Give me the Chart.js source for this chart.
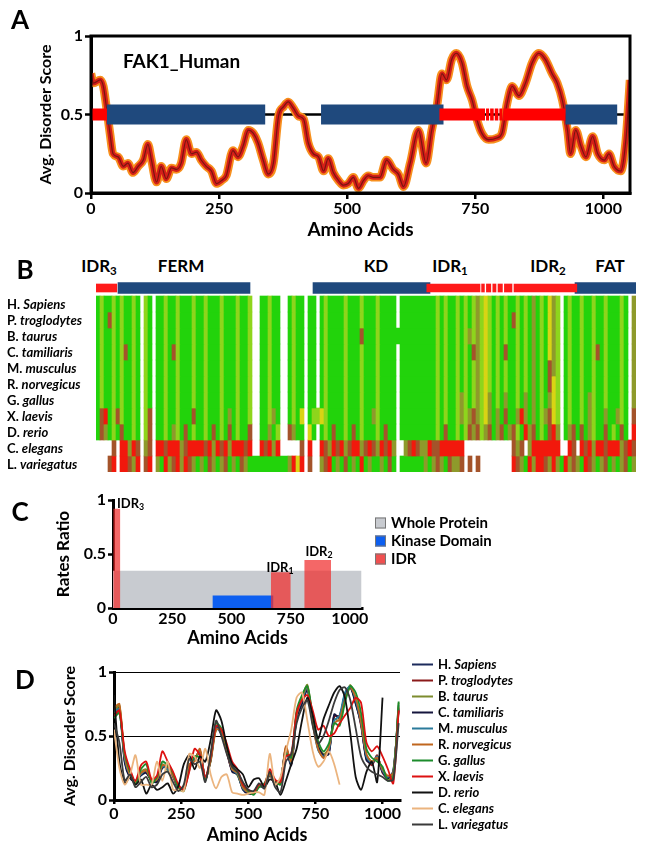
<!DOCTYPE html>
<html>
<head>
<meta charset="utf-8">
<script src="https://cdn.jsdelivr.net/npm/chart.js@4.4.0/dist/chart.umd.min.js"></script>
<style>
  body { margin: 0; background: #fff; }
  #fig { position: relative; width: 645px; height: 851px; font-family: Lato, 'Open Sans', sans-serif; font-weight: bold; color: #000; overflow: hidden; }
  #fig canvas { position: absolute; }
  .t { position: absolute; line-height: 1; white-space: nowrap; }
  .c { transform: translate(-50%, -50%); }
  .l { transform: translate(0, -50%); }
  sub { font-size: 68%; vertical-align: -0.3em; line-height: 0; }
  .letter { font-size: 26px; }
  .hdr { font-size: 17px; }
  .row { font-size: 13px; }
  .idr { font-size: 13px; }
  .lgC { font-size: 15px; }
  .lgC span.sw { position: absolute; left: -16px; top: 50%; width: 9px; height: 9px; margin-top: -5px; border: 1px solid #777; }
  .lgD { font-size: 13px; }
  .lgD span.ln { position: absolute; left: -26px; top: 50%; width: 21px; height: 2px; margin-top: -1px; }
</style>
</head>
<body>
<div id="fig">
  <canvas id="chartA" width="645" height="245" style="left:0;top:0"></canvas>
  <canvas id="chartB" width="540" height="192" style="left:96px;top:280px"></canvas>
  <canvas id="chartC" width="645" height="170" style="left:0;top:480px"></canvas>
  <canvas id="chartD" width="645" height="201" style="left:0;top:650px"></canvas>

  <div class="t c letter" style="left:20px;top:19px">A</div>
  <div class="t c letter" style="left:25px;top:269px">B</div>
  <div class="t c letter" style="left:20px;top:511px">C</div>
  <div class="t c letter" style="left:25px;top:679px">D</div>

  <div class="t l" style="left:123px;top:60px;font-size:19px">FAK1_Human</div>

  <div class="t c hdr" style="left:99px;top:265px">IDR<sub>3</sub></div>
  <div class="t c hdr" style="left:181px;top:265px">FERM</div>
  <div class="t c hdr" style="left:376px;top:265px">KD</div>
  <div class="t c hdr" style="left:450px;top:265px">IDR<sub>1</sub></div>
  <div class="t c hdr" style="left:548px;top:265px">IDR<sub>2</sub></div>
  <div class="t c hdr" style="left:610px;top:265px">FAT</div>

  <div class="t l idr" style="left:117px;top:503px">IDR<sub>3</sub></div>
  <div class="t c idr" style="left:280px;top:567px">IDR<sub>1</sub></div>
  <div class="t c idr" style="left:319px;top:551px">IDR<sub>2</sub></div>

  <div id="rowLabels"></div>
  <div id="legendC"></div>
  <div id="legendD"></div>
</div>

<script>
// ---------- shared ----------
const speciesNames = ['H. Sapiens', 'P. troglodytes', 'B. taurus', 'C. tamiliaris', 'M. musculus',
  'R. norvegicus', 'G. gallus', 'X. laevis', 'D. rerio', 'C. elegans', 'L. variegatus'];

// ---------- panel A : FAK1 human disorder profile ----------
const aaA = [0, 5, 18, 24, 30, 37, 43, 53, 63, 72, 82, 92, 102, 111, 118, 128, 137, 147, 157, 167,
  176, 186, 196, 206, 215, 225, 235, 245, 255, 264, 277, 287, 297, 307, 317, 326, 336, 346, 356, 366,
  376, 385, 395, 405, 415, 424, 434, 444, 454, 463, 473, 483, 493, 502, 512, 522, 532, 541, 551, 564,
  577, 590, 600, 610, 623, 639, 654, 665, 675, 685, 694, 704, 713, 724, 734, 744, 753, 763, 776, 792,
  802, 812, 822, 835, 848, 861, 874, 887, 900, 910, 920, 930, 936, 946, 956, 966, 979, 989, 1002, 1011,
  1021, 1034, 1044, 1052];
const scoreA = [0.76, 0.70, 0.72, 0.68, 0.55, 0.38, 0.25, 0.23, 0.17, 0.19, 0.13, 0.17, 0.21, 0.31, 0.21, 0.07, 0.17, 0.09, 0.16, 0.15,
  0.19, 0.34, 0.25, 0.26, 0.21, 0.17, 0.14, 0.06, 0.08, 0.11, 0.27, 0.23, 0.30, 0.40, 0.38, 0.32, 0.21, 0.12, 0.19, 0.49,
  0.55, 0.58, 0.54, 0.49, 0.47, 0.32, 0.25, 0.23, 0.14, 0.22, 0.13, 0.08, 0.05, 0.06, 0.10, 0.03, 0.08, 0.11, 0.10, 0.10,
  0.21, 0.15, 0.12, 0.04, 0.19, 0.40, 0.19, 0.40, 0.55, 0.76, 0.72, 0.85, 0.89, 0.83, 0.68, 0.59, 0.47, 0.38, 0.34, 0.35,
  0.38, 0.57, 0.68, 0.62, 0.70, 0.83, 0.89, 0.85, 0.76, 0.70, 0.59, 0.40, 0.25, 0.40, 0.30, 0.23, 0.36, 0.25, 0.21, 0.25,
  0.17, 0.14, 0.34, 0.72];
const proteinLengthA = 1052;
const domainsA = [[31, 340], [449, 688], [926, 1027]];
const idrsA = [[0, 31], [680, 769], [771, 777], [779, 786], [788, 795], [797, 803], [805, 926]];
const xTicksA = [0, 250, 500, 750, 1000];
const yTicksA = [0, 0.5, 1];

// ---------- panel B : conservation alignment ----------
const domainB = [[5.5, 38.5], [54.25, 83.5], [119.75, 135]];
const idrB = [[0, 5.2], [82.7, 96], [96.4, 97.1], [97.6, 98.7], [99.2, 100], [100.5, 101.6], [102.1, 104], [104.5, 120.2]];
// one character per alignment column: G green, L light green, Y yellow, O olive, B brown, R red, . gap
const alignRows = [
  'GLGGLGLGGL G.LG.GGLGG LGGGLGGLGG GLGGGLGGL. .GGLGG..GL GG.GG.GLGG GGLGGGLGGG LGGGG.GGGG GGGGGLGLGG LGLGLOLYLG LGLGGLGLGO GLGYOL.GLG GLGGLGGLGG GLG.O',
  'GLGBLGLGGL G.LG.GGLGG LGGGLGGLGG GLGGGLGGL. .GGLGG..GL GG.GG.GLGG GGLGGGLGGG LGGGG.GGGG GGGGGLGLGG LGLGLOLYLG LGLGBLGLGO GLGYOL.GLG GLGGLGGLGG GLG.O',
  'GLGGLGLGGL G.LG.GGLGG LGGGLGGLGG GLGGGLGGL. .GGLGG..GL GG.GG.GLGG GGLGGGBGGG LGGGGGGGGG GGGGGLGLGG LGLOLOLYLG LGLGGLGLGO GLGYOL.GLG GLGGLGGLGG GLG.O',
  'GLGGLGLBGL G.LG.GGLGB LGGGLGGLGG GLGGGLGGL. .GGLGG..GL GG.GG.GLGG GGLGGGLGGG LGGGG.GGGG GGGGGLGLGG LGLGBOLYLG LGBGGLGLGO GLGYOL.GLG GLGGLBGLGG GLG.O',
  'GLGGLGLGGL G.LG.GGLGG LGGGLGGLGG GLGGGLGGL. .GGLGG..GL GG.GG.GLGG GGLGGGLGGG LGGGG.GGGG GGGGGLGLGG LGLGLOLYLG LGLGGLGLGO GLGBOL.GLG GLGGLGGLGG GLG.O',
  'GLGGLGLGGL G.LG.GGLGG LGGGLGGLGG GLGGGLGGL. .GGLGG..GL GG.GG.GLGG GGLGGGLGGG LGGGG.GGGG GGGGGLGLGG LGLGLOLYLG LGLGGLGLGO GLGBYL.GLG GLGGLGGLGG GLG.O',
  'GLGGLGLGGL G.LG.GGLGG LGGGLGGLGG GLGGGLGGL. .GGLGG..GL GG.GG.GLGG GGLGGGLGGG LGGGG.GGGG GGGGGLGLGG LOLGLOLYOG LGOGGLGOGO GLGOYL.GLG GLGOLGGLGG GLG.O',
  'GBRGLBLGGL G.LB.GGLGG LGGGBGGLGG GLGOGLGGL. .GGLOG..GL GY.GLLYLGG GGLGGGLGGO LGGGG.GGGG GGGGGLGLGG LOLOBOLYOG OGBGGOROGO GLOBYL.GLG GLGOLGGOGG OLG.B',
  'GBOGLGBGGL G.LB.GGLGO LGBGLGGLGB GLGBGLGGB. .GGOGL..BO GG.YG.GLGB GGLGBGLGGG LGBGG.GGGG GGGGGLGBGG LGLBOBLOBG OBGOBLGROB GLGBRO.GOB GBGOLGGBGL GBG.R',
  '....B.RROR B.OB.RRBRR ROBRRRRBRO RBRORRRBR. .RBROR.... .B.R..RBOR BROBRROBRB ORBRO..OBR BOORBBRRRR RR........ ....BOB.OR RRRRRR..RB .RBRORRBRR ROBRB',
  '...BR.RRBO R.BR.OGROB RORBOGOGBO GOBGOGBOGG GGGGGGGGOR YR.B..OBRG OGBGOGRGOG GOGBG.GGGG GGOGOBOGBO OB.B.B.... ....RBOGRO RRBOROGROB OGRBOGOBGO GOBGO'
];
const cellColors = { G: '#22d30b', L: '#8ed51c', Y: '#d9d414', O: '#8e9a2b', B: '#a4532a', R: '#f2180c' };

// ---------- panel C : rates ratio ----------
const regionNamesC = ['IDR2', 'IDR1', 'IDR3', 'Kinase Domain', 'Whole Protein'];
const regionStartC = [808, 667, 1, 420, 0];
const regionEndC = [921, 751, 31, 678, 1050];
const ratioC = [0.445, 0.33, 0.92, 0.115, 0.345];
const regionColorC = ['rgba(240,45,45,0.72)', 'rgba(240,45,45,0.72)', 'rgba(240,45,45,0.72)', '#0d5ff0', '#c8cbd0'];
const legendNamesC = ['Whole Protein', 'Kinase Domain', 'IDR'];
const legendColorC = ['#c8cbd0', '#0d5ff0', '#f05050'];
const xTicksC = [0, 250, 500, 750, 1000];
const yTicksC = [0, 0.5, 1];

// ---------- panel D : orthologue disorder profiles ----------
const aaD = [0, 20, 40, 60, 80, 100, 120, 140, 160, 180, 200, 220, 240, 260, 280, 300, 320, 340, 360, 380,
  400, 420, 440, 460, 480, 500, 520, 540, 560, 580, 600, 620, 640, 660, 680, 700, 720, 740, 760, 780,
  800, 820, 840, 860, 880, 900, 920, 940, 960, 980, 1000, 1020, 1040, 1060];
const hsD = [0.70, 0.72, 0.30, 0.18, 0.14, 0.20, 0.22, 0.15, 0.15, 0.26, 0.25, 0.19, 0.09, 0.09, 0.26, 0.32, 0.38, 0.16, 0.32, 0.57,
  0.52, 0.38, 0.23, 0.20, 0.09, 0.06, 0.05, 0.11, 0.10, 0.20, 0.12, 0.15, 0.40, 0.28, 0.65, 0.76, 0.87, 0.62, 0.40, 0.34,
  0.37, 0.66, 0.65, 0.82, 0.88, 0.76, 0.59, 0.32, 0.28, 0.34, 0.22, 0.17, 0.22, 0.72];
const ptD = [0.71, 0.73, 0.31, 0.18, 0.15, 0.21, 0.22, 0.16, 0.15, 0.27, 0.25, 0.18, 0.09, 0.10, 0.27, 0.31, 0.39, 0.16, 0.33, 0.56,
  0.53, 0.37, 0.23, 0.21, 0.09, 0.06, 0.05, 0.12, 0.10, 0.21, 0.12, 0.14, 0.41, 0.28, 0.66, 0.77, 0.88, 0.61, 0.41, 0.33,
  0.38, 0.65, 0.66, 0.81, 0.89, 0.77, 0.58, 0.33, 0.27, 0.35, 0.21, 0.18, 0.21, 0.70];
const btD = [0.68, 0.74, 0.33, 0.20, 0.13, 0.22, 0.24, 0.14, 0.17, 0.28, 0.23, 0.20, 0.10, 0.08, 0.25, 0.33, 0.36, 0.18, 0.30, 0.55,
  0.54, 0.40, 0.25, 0.19, 0.10, 0.07, 0.06, 0.10, 0.11, 0.19, 0.14, 0.16, 0.38, 0.30, 0.68, 0.80, 0.90, 0.64, 0.43, 0.36,
  0.40, 0.63, 0.62, 0.80, 0.90, 0.79, 0.62, 0.35, 0.30, 0.32, 0.24, 0.16, 0.20, 0.76];
const ctD = [0.66, 0.70, 0.29, 0.17, 0.14, 0.19, 0.21, 0.15, 0.14, 0.25, 0.26, 0.20, 0.08, 0.09, 0.27, 0.32, 0.37, 0.17, 0.31, 0.58,
  0.51, 0.39, 0.22, 0.20, 0.08, 0.05, 0.05, 0.12, 0.09, 0.20, 0.13, 0.15, 0.39, 0.27, 0.64, 0.75, 0.86, 0.63, 0.42, 0.35,
  0.36, 0.67, 0.64, 0.83, 0.88, 0.75, 0.60, 0.31, 0.29, 0.33, 0.22, 0.17, 0.23, 0.71];
const mmD = [0.69, 0.71, 0.32, 0.19, 0.15, 0.20, 0.23, 0.16, 0.16, 0.26, 0.24, 0.19, 0.09, 0.09, 0.26, 0.31, 0.38, 0.17, 0.32, 0.56,
  0.52, 0.38, 0.24, 0.20, 0.09, 0.06, 0.06, 0.11, 0.10, 0.21, 0.12, 0.15, 0.40, 0.29, 0.67, 0.78, 0.88, 0.60, 0.39, 0.34,
  0.39, 0.62, 0.66, 0.84, 0.89, 0.78, 0.60, 0.34, 0.29, 0.34, 0.23, 0.18, 0.22, 0.74];
const rnD = [0.72, 0.75, 0.34, 0.19, 0.14, 0.21, 0.23, 0.15, 0.16, 0.27, 0.26, 0.19, 0.10, 0.09, 0.28, 0.30, 0.40, 0.16, 0.31, 0.55,
  0.54, 0.39, 0.24, 0.21, 0.10, 0.06, 0.05, 0.11, 0.11, 0.20, 0.13, 0.14, 0.42, 0.30, 0.66, 0.80, 0.89, 0.59, 0.40, 0.33,
  0.41, 0.60, 0.63, 0.78, 0.88, 0.80, 0.61, 0.36, 0.30, 0.33, 0.24, 0.19, 0.21, 0.73];
const ggD = [0.64, 0.68, 0.36, 0.22, 0.12, 0.24, 0.28, 0.13, 0.18, 0.30, 0.27, 0.21, 0.09, 0.07, 0.23, 0.34, 0.33, 0.15, 0.35, 0.60,
  0.56, 0.42, 0.26, 0.22, 0.12, 0.07, 0.04, 0.10, 0.13, 0.22, 0.15, 0.12, 0.36, 0.33, 0.70, 0.82, 0.89, 0.66, 0.46, 0.38,
  0.44, 0.60, 0.58, 0.76, 0.89, 0.84, 0.68, 0.40, 0.33, 0.30, 0.26, 0.15, 0.18, 0.77];
const xlD = [0.66, 0.70, 0.38, 0.24, 0.15, 0.27, 0.30, 0.16, 0.19, 0.38, 0.30, 0.22, 0.12, 0.08, 0.22, 0.40, 0.35, 0.18, 0.34, 0.58,
  0.55, 0.44, 0.30, 0.24, 0.12, 0.08, 0.06, 0.12, 0.12, 0.24, 0.16, 0.14, 0.34, 0.36, 0.68, 0.78, 0.82, 0.70, 0.55, 0.58,
  0.50, 0.52, 0.60, 0.66, 0.72, 0.80, 0.76, 0.45, 0.38, 0.42, 0.34, 0.24, 0.13, 0.70];
const drD = [0.82, 0.30, 0.13, 0.18, 0.12, 0.16, 0.05, 0.12, 0.08, 0.10, 0.13, 0.05, 0.11, 0.28, 0.35, 0.24, 0.34, 0.30, 0.47, 0.70,
  0.62, 0.42, 0.28, 0.24, 0.20, 0.10, 0.16, 0.17, 0.10, 0.16, 0.14, 0.04, 0.15, 0.28, 0.40, 0.62, 0.80, 0.66, 0.48, 0.63,
  0.74, 0.84, 0.89, 0.80, 0.52, 0.18, 0.08, 0.22, 0.30, 0.14, 0.80, null, null, null];
const ceD = [0.55, 0.25, 0.12, 0.20, 0.35, 0.12, 0.12, 0.12, 0.30, 0.15, 0.30, 0.08, 0.08, 0.07, 0.36, 0.34, 0.25, 0.40, 0.20, 0.09,
  0.18, 0.20, 0.06, 0.05, 0.04, 0.05, 0.06, 0.06, 0.04, 0.36, 0.12, 0.18, 0.38, 0.55, 0.80, 0.84, 0.62, 0.38, 0.26, 0.30,
  0.38, 0.28, 0.12, null, null, null, null, null, null, null, null, null, null, null];
const lvD = [0.60, 0.45, 0.15, 0.20, 0.10, 0.14, 0.18, 0.10, 0.12, 0.20, 0.22, 0.14, 0.07, 0.12, 0.32, 0.28, 0.30, 0.14, 0.36, 0.62,
  0.50, 0.36, 0.26, 0.22, 0.14, 0.08, 0.07, 0.13, 0.09, 0.22, 0.10, 0.06, 0.30, 0.36, 0.60, 0.72, 0.78, 0.58, 0.44, 0.50,
  0.62, 0.76, 0.86, 0.88, 0.78, 0.56, 0.34, 0.26, 0.22, 0.20, 0.18, 0.15, 0.16, 0.60];
const seriesD = [hsD, ptD, btD, ctD, mmD, rnD, ggD, xlD, drD, ceD, lvD];
const colorsD = ['#1c2b5c', '#8b1a1a', '#7d8c2e', '#15153d', '#2b7b9b', '#c0661e', '#1c8c2c', '#dd1111', '#111111', '#ebb47e', '#3a3a3a'];
const xTicksD = [0, 250, 500, 750, 1000];
const yTicksD = [0, 0.5, 1];

// ---------- defaults ----------
Chart.defaults.font.family = "Lato, 'Open Sans', sans-serif";
Chart.defaults.font.weight = 'bold';
Chart.defaults.color = '#000';
Chart.defaults.animation = false;
Chart.defaults.responsive = false;
Chart.defaults.devicePixelRatio = 1;
Chart.defaults.plugins.legend.display = false;
Chart.defaults.plugins.tooltip.enabled = false;
Chart.defaults.elements.point.radius = 0;

// fixed tick lists
function useTicks(values) {
    return scale => { scale.ticks = values.map(v => ({ value: v })); };
}

function points(xs, ys) {
    return xs.map((x, i) => ({ x: x, y: ys[i] }));
}

// horizontal bars at one level, broken between ranges
function levelSegments(ranges, level) {
    const out = [];
    ranges.forEach(([a, b], i) => {
        if (i > 0) out.push({ x: (out[out.length - 1].x + a) / 2, y: null });
        out.push({ x: a, y: level }, { x: b, y: level });
    });
    return out;
}

// box around the plot area (panel A)
const framePlugin = {
    id: 'frame',
    afterDatasetsDraw(chart) {
        const { ctx, chartArea: a } = chart;
        ctx.save();
        ctx.strokeStyle = '#000';
        ctx.lineWidth = 3;
        ctx.strokeRect(a.left, a.top, a.right - a.left, a.bottom - a.top);
        ctx.restore();
    }
};

function axisX(opts) {
    return {
        type: 'linear', min: opts.min, max: opts.max,
        border: { display: true, color: '#000', width: 3 },
        grid: { drawOnChartArea: false, drawTicks: opts.tick > 0, tickLength: opts.tick, tickWidth: 2.5, tickColor: '#000', lineWidth: 2.5 },
        ticks: { font: { size: opts.tickSize, weight: 'bold' }, padding: opts.tickPad, maxRotation: 0, callback: v => String(v) },
        afterBuildTicks: useTicks(opts.ticks),
        afterFit: s => { s.height = opts.height; },
        title: { display: true, text: 'Amino Acids', font: { size: opts.titleSize, weight: 'bold' }, padding: { top: 0, bottom: opts.titlePad } }
    };
}

function axisY(opts) {
    return {
        type: 'linear', min: 0, max: 1,
        border: { display: true, color: '#000', width: 3 },
        grid: { drawOnChartArea: !!opts.gridLines, color: '#000', lineWidth: 1, tickLength: opts.tick, tickWidth: 2.5, tickColor: '#000' },
        ticks: { font: { size: opts.tickSize, weight: 'bold' }, padding: 2, callback: v => String(v) },
        afterBuildTicks: useTicks(opts.ticks),
        afterFit: s => { s.width = opts.width; },
        title: { display: true, text: opts.title, font: { size: opts.titleSize, weight: 'bold' }, padding: { top: opts.titlePad, bottom: 0 } }
    };
}

// ---------- chart A ----------
new Chart(document.getElementById('chartA'), {
    type: 'line',
    data: {
        datasets: [
            { data: levelSegments(idrsA, 0.5), borderColor: '#ff0000', borderWidth: 12, borderCapStyle: 'butt', spanGaps: false },
            { data: levelSegments(domainsA, 0.5), borderColor: '#1f497d', borderWidth: 20, borderCapStyle: 'butt', spanGaps: false },
            { data: points(aaA, scoreA), borderColor: '#7a1410', borderWidth: 1.2, cubicInterpolationMode: 'monotone' },
            { data: points(aaA, scoreA), borderColor: '#d41f18', borderWidth: 5, cubicInterpolationMode: 'monotone' },
            { data: points(aaA, scoreA), borderColor: '#f7901e', borderWidth: 8.5, cubicInterpolationMode: 'monotone' },
            { data: [{ x: 0, y: 0.5 }, { x: proteinLengthA, y: 0.5 }], borderColor: '#000', borderWidth: 2.5 }
        ]
    },
    options: {
        layout: { padding: { left: 30, right: 15, top: 36, bottom: 0 } },
        scales: {
            x: axisX({ min: 0, max: proteinLengthA, ticks: xTicksA, tick: 6, tickSize: 16, tickPad: 0, height: 52, titleSize: 19, titlePad: 4 }),
            y: axisY({ ticks: yTicksA, tick: 6, tickSize: 16, width: 61, title: 'Avg. Disorder Score', titleSize: 16, titlePad: 6 })
        }
    },
    plugins: [framePlugin]
});

// ---------- chart B ----------
function rowRuns(str) {
    const s = str.replace(/ /g, '');
    const runs = [];
    for (let i = 0; i < s.length; i++) {
        const ch = s[i];
        if (ch === '.') continue;
        const last = runs[runs.length - 1];
        if (last && last.ch === ch && last.end === i) last.end = i + 1;
        else runs.push({ ch: ch, start: i, end: i + 1 });
    }
    return runs;
}

const datasetsB = [
    { data: idrB.map(([a, b]) => ({ x: [a, b], y: 'header' })), backgroundColor: '#ff1a1a', barThickness: 8, grouped: false },
    { data: domainB.map(([a, b]) => ({ x: [a, b], y: 'header' })), backgroundColor: '#1f497d', barThickness: 11, grouped: false }
];
alignRows.forEach((str, r) => {
    const runs = rowRuns(str);
    datasetsB.push({
        data: runs.map(u => ({ x: [u.start, u.end], y: speciesNames[r] })),
        backgroundColor: runs.map(u => cellColors[u.ch]),
        barPercentage: 1, categoryPercentage: 1, grouped: false, borderWidth: 0
    });
});

new Chart(document.getElementById('chartB'), {
    type: 'bar',
    data: { labels: ['header'].concat(speciesNames), datasets: datasetsB },
    options: {
        indexAxis: 'y',
        layout: { padding: 0 },
        scales: {
            x: { type: 'linear', min: 0, max: 135, display: false },
            y: { display: false }
        }
    }
});

// ---------- chart C ----------
new Chart(document.getElementById('chartC'), {
    type: 'line',
    data: {
        datasets: regionNamesC.map((name, i) => ({
            label: name,
            data: [{ x: regionStartC[i], y: ratioC[i] }, { x: regionEndC[i], y: ratioC[i] }],
            fill: 'origin', backgroundColor: regionColorC[i], borderWidth: 0
        }))
    },
    options: {
        layout: { padding: { left: 45, right: 283, top: 20, bottom: 0 } },
        scales: {
            x: axisX({ min: 0, max: 1052, ticks: xTicksC, tick: 0, tickSize: 16, tickPad: 1, height: 42, titleSize: 18, titlePad: 1 }),
            y: axisY({ ticks: yTicksC, tick: 5, tickSize: 16, width: 68, title: 'Rates Ratio', titleSize: 17, titlePad: 8 })
        }
    }
});

// ---------- chart D ----------
new Chart(document.getElementById('chartD'), {
    type: 'line',
    data: {
        datasets: seriesD.map((ys, i) => ({
            label: speciesNames[i],
            data: points(aaD, ys),
            borderColor: colorsD[i], borderWidth: 1.8, tension: 0.25,
            order: seriesD.length - 1 - i
        }))
    },
    options: {
        layout: { padding: { left: 55, right: 245, top: 22, bottom: 0 } },
        scales: {
            x: axisX({ min: 0, max: 1065, ticks: xTicksD, tick: 4, tickSize: 16, tickPad: 0, height: 51, titleSize: 18, titlePad: 5 }),
            y: axisY({ ticks: yTicksD, tick: 5, tickSize: 16, width: 59, title: 'Avg. Disorder Score', titleSize: 16, titlePad: 5, gridLines: true })
        }
    }
});

// ---------- text: row labels, legends ----------
function speciesHtml(name) {
    const parts = name.split(' ');
    return parts[0] + ' <i>' + parts.slice(1).join(' ') + '</i>';
}

const rowBox = document.getElementById('rowLabels');
speciesNames.forEach((name, i) => {
    const d = document.createElement('div');
    d.className = 't l row';
    d.style.left = '7px';
    d.style.top = (304 + 16 * i) + 'px';
    d.innerHTML = speciesHtml(name);
    rowBox.appendChild(d);
});

const legC = document.getElementById('legendC');
legendNamesC.forEach((name, i) => {
    const d = document.createElement('div');
    d.className = 't l lgC';
    d.style.left = '391px';
    d.style.top = (522 + 18 * i) + 'px';
    d.innerHTML = '<span class="sw" style="background:' + legendColorC[i] + '"></span>' + name;
    legC.appendChild(d);
});

const legD = document.getElementById('legendD');
speciesNames.forEach((name, i) => {
    const d = document.createElement('div');
    d.className = 't l lgD';
    d.style.left = '438px';
    d.style.top = (664 + 16 * i) + 'px';
    d.innerHTML = '<span class="ln" style="background:' + colorsD[i] + '"></span>' + speciesHtml(name);
    legD.appendChild(d);
});
</script>
</body>
</html>
